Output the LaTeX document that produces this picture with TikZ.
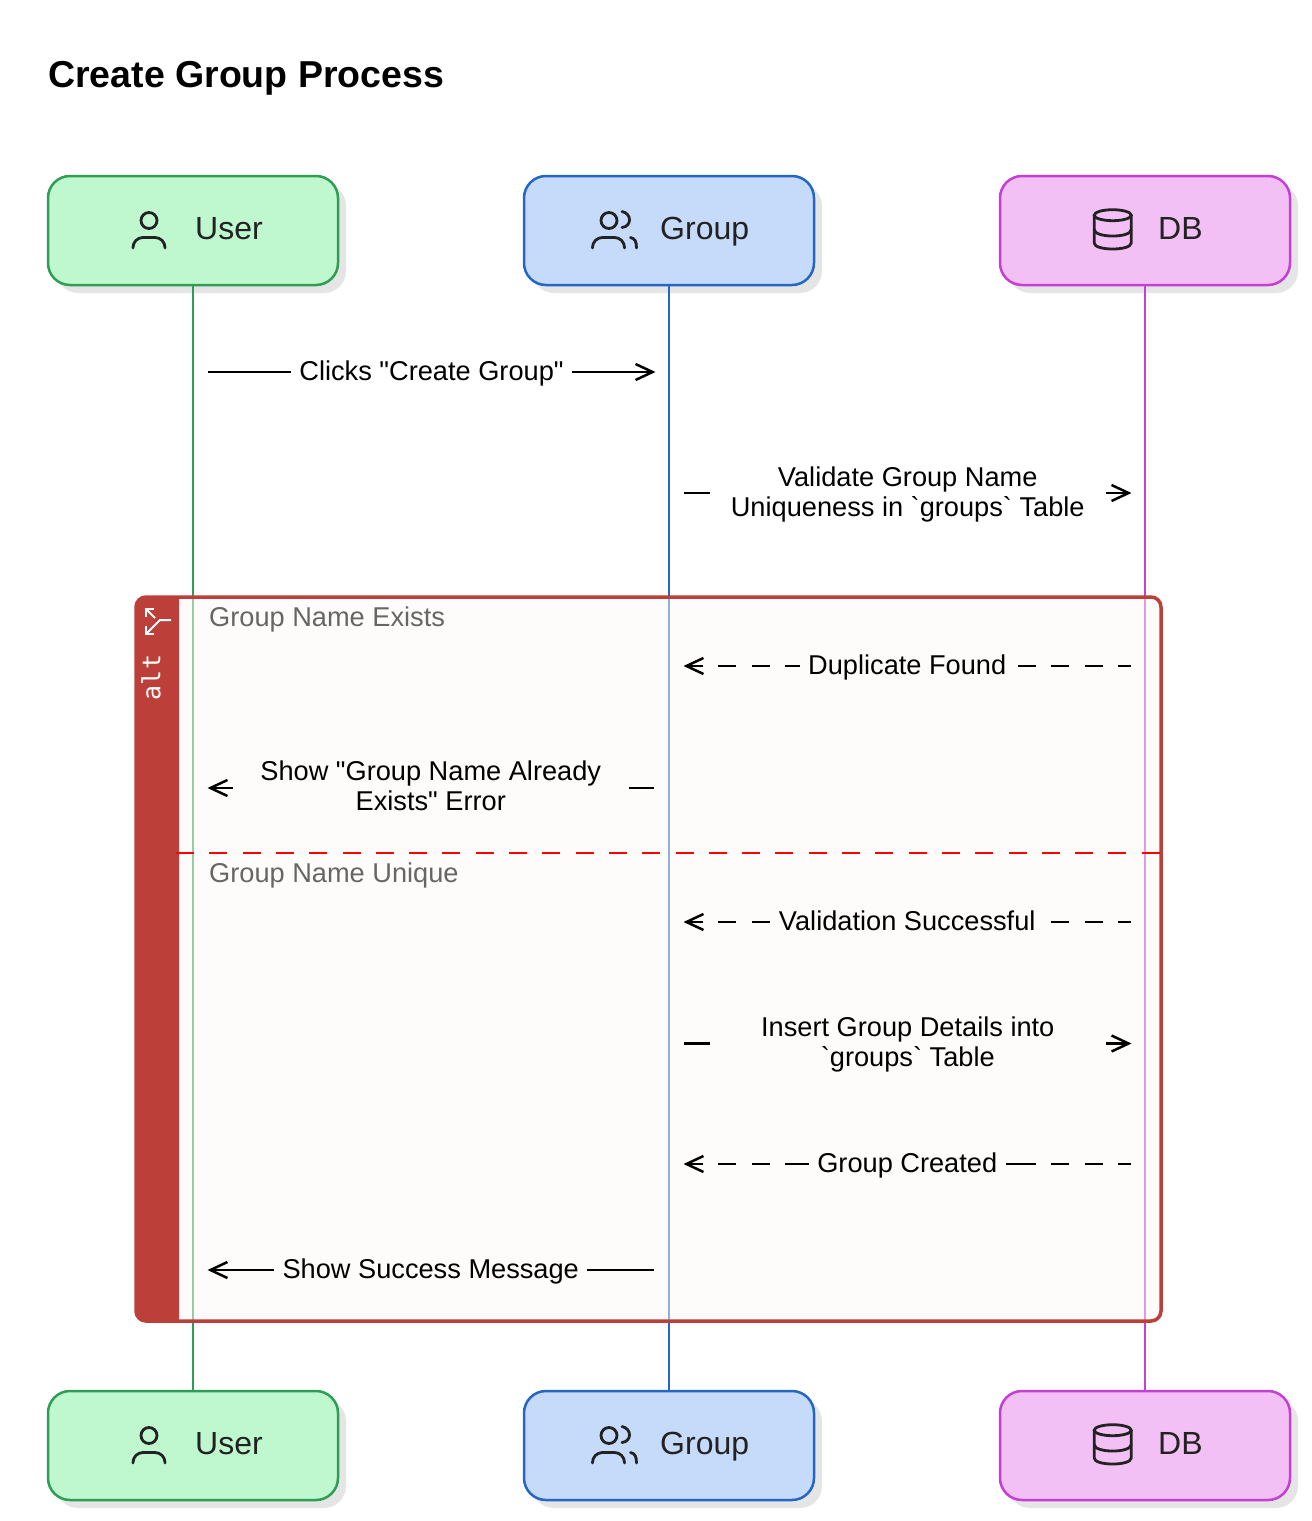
\documentclass[tikz,border=0pt]{standalone}
\usepackage{fontspec}
\setmainfont{Liberation Sans}
\setmonofont{DejaVu Sans Mono}
\newfontfamily\plainsans{Liberation Sans}
\usetikzlibrary{arrows.meta,calc,shadows}
\definecolor{userFill}{HTML}{BFF8CE}
\definecolor{userLine}{HTML}{2F9E54}
\definecolor{groupFill}{HTML}{C6DBFA}
\definecolor{groupLine}{HTML}{2566C4}
\definecolor{dbFill}{HTML}{F3C0F6}
\definecolor{dbLine}{HTML}{C43FD4}
\definecolor{altRed}{HTML}{BD3F39}
\definecolor{altTint}{HTML}{FBF9F6}
\definecolor{altBg}{HTML}{FDFCFA}
\definecolor{iconInk}{HTML}{222222}
\tikzset{
    actor/.style={draw=#1Line, fill=#1Fill, line width=2.5pt, rounded corners=22pt, minimum width=290pt, minimum height=109pt, inner sep=0pt,
        drop shadow={shadow xshift=8pt, shadow yshift=-8pt, fill=black!10, opacity=1}},
    actortext/.style={font=\fontsize{32}{36}\selectfont, text=iconInk, anchor=base west, inner sep=0pt, yshift=-9pt},
    lifeline/.style={draw=#1Line, line width=2.5pt},
    icon/.style={draw=iconInk, line width=2.8pt, line cap=round},
    msgline/.style={line width=2.5pt, -{Straight Barb[length=17pt,width=16pt,line width=2.5pt]}},
    msgback/.style={msgline, dash pattern=on 18pt off 15.3pt, dash phase=5pt},
    msg/.style={font=\plainsans\fontsize{27.2}{30}\selectfont, fill=#1, align=center, inner xsep=8.5pt, inner ysep=1pt},
    wide/.style={minimum width=396pt},
    narrow/.style={},
    sectionlabel/.style={font=\fontsize{27.2}{30}\selectfont, text=black!60, anchor=west, inner sep=0pt},
    usericon/.pic={
        \draw[icon] (-44,-10) circle (8);
        \draw[icon, rounded corners=10pt] (-60,17.5) -- (-60,7) -- (-28,7) -- (-28,17.5);
    },
    groupicon/.pic={
        \draw[icon] (-60,-10) circle (8);
        \draw[icon] (-47,-19) .. controls (-37,-17) and (-37,-4) .. (-47,-3);
        \draw[icon, rounded corners=10pt] (-76.5,17.5) -- (-76.5,7) -- (-44.5,7) -- (-44.5,17.5);
        \draw[icon] (-38.5,7) .. controls (-34,8) and (-32.5,11) .. (-32.5,17.5);
    },
    dbicon/.pic={
        \draw[icon] (-32.3,-15.3) ellipse (18.5 and 5.5);
        \draw[icon] (-50.8,-15.3) -- (-50.8,12.5) .. controls (-50.8,20.5) and (-13.8,20.5) .. (-13.8,12.5) -- (-13.8,-15.3);
        \draw[icon] (-50.8,-1) .. controls (-50.8,7.7) and (-13.8,7.7) .. (-13.8,-1);
    },
}
\begin{document}
\begin{tikzpicture}[x=1pt, y=-1pt]
    \useasboundingbox (0,0) rectangle (1312,1521);
    \node[font=\bfseries\fontsize{37.5}{40}\selectfont, anchor=west, inner sep=0pt] (title) at (48,78) {Create Group Process};
    % Actor boxes, top and bottom row
    \foreach \a/\x/\txt/\tx in {user/193/User/195, group/669/Group/660, db/1145/DB/1158} {
        \foreach \r/\y in {Top/230.5, Bot/1445.5} {
            \node[actor=\a] (\a\r) at (\x,\y) {};
            \pic at (\x,\y) {\a icon};
            \node[actortext] (\a\r Text) at (\tx,\y) {\txt};
        }
        \draw[lifeline=\a] (\a Top) -- (\a Bot);
    }
    % Alt frame
    \node[draw=altRed, fill=altTint, fill opacity=.5, draw opacity=1, line width=3.5pt, rounded corners=10pt, minimum width=1025pt, minimum height=724pt, inner sep=0pt] (altBox) at (648.5,959) {};
    \fill[altRed] (179,597) [rounded corners=10pt] -- (136,597) -- (136,1321) [sharp corners] -- (179,1321) -- cycle;
    \node[font=\ttfamily\fontsize{25}{27}\selectfont, text=white, rotate=90, inner sep=0pt] (altTag) at (151,677.5) {alt};
    \draw[white, line width=2pt] (171,620) -- (160,620) -- (146,634);
    \draw[white, line width=2pt] (146,609) -- (155,618);
    \draw[white, line width=2pt] (146,617) -- (146,609) -- (154,609);
    \draw[white, line width=2pt] (146,626) -- (146,634) -- (154,634);
    \coordinate (altDivL) at (176,853);
    \coordinate (altDivR) at (1162,853);
    \draw[red, line width=2.5pt, dash pattern=on 18pt off 15.3pt] (altDivL) -- (altDivR);
    \node[sectionlabel] (secExists) at (209,619) {Group Name Exists};
    \node[sectionlabel] (secUnique) at (209,875) {Group Name Unique};
    % Messages
    \foreach \n/\xa/\xb/\y/\dy/\sty/\w/\bg/\txt in {
        1/207.5/655.5/372/1.5/msgline/narrow/white/{\vphantom{Gp}Clicks "Create Group"},
        2/684/1131.5/493/1/msgline/wide/white/{Validate Group Name\\Uniqueness in `groups` Table},
        3/1131/683.5/666/1.5/msgback/narrow/altBg/{\vphantom{Gp}Duplicate Found},
        4/654/207.5/788/-2/msgline/wide/altBg/{Show "Group Name Already\\Exists" Error},
        5/1131/683.5/922/1.5/msgback/narrow/altBg/{\vphantom{Gp}Validation Successful},
        6/684/1131.5/1043.5/1/msgline/wide/altBg/{Insert Group Details into\\`groups` Table},
        7/1131/683.5/1164/1.5/msgback/narrow/altBg/{\vphantom{Gp}Group Created},
        8/654/207.5/1270/1.5/msgline/narrow/altBg/{\vphantom{Gp}Show Success Message}} {
        \coordinate (from\n) at (\xa,\y);
        \coordinate (to\n) at (\xb,\y);
        \draw[\sty] (from\n) -- (to\n);
        \node[msg=\bg, \w] (msg\n) at ($(from\n)!.5!(to\n)+(0,\dy)$) {\txt};
    }
    % Longer dashes next to the label
    \draw[line width=2.5pt] (msg7.west |- from7) -- ++(-9,0);
    \draw[line width=2.5pt] (msg7.east |- from7) -- ++(12,0);
\end{tikzpicture}
\end{document}
